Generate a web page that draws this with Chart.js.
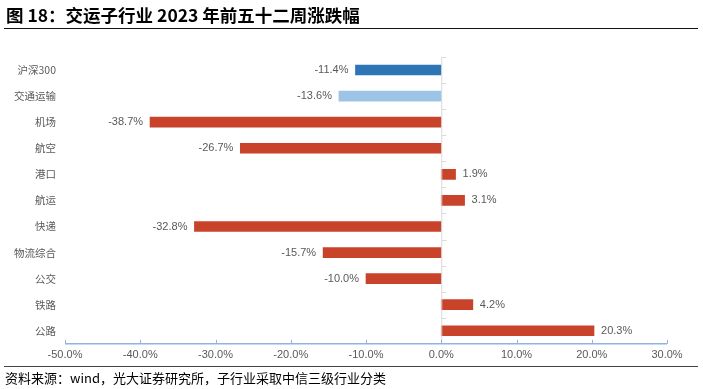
<!DOCTYPE html>
<html>
<head>
<meta charset="utf-8">
<script src="https://cdn.jsdelivr.net/npm/chart.js@4"></script>
<style>
  body { margin: 0; width: 703px; height: 389px; background: #fff; position: relative; overflow: hidden; }
  #title { position: absolute; left: 6px; top: 2px; font: bold 17.5px "Noto Sans CJK SC"; color: #000; white-space: nowrap; }
  #titleLine { position: absolute; left: 4px; right: 5px; top: 28px; height: 0; border-top: 1.5px solid #111; }
  #footLine { position: absolute; left: 4px; right: 5px; top: 366px; height: 0; border-top: 1.5px solid #444; }
  #foot { position: absolute; left: 5px; top: 368px; font: 13px "Noto Sans CJK SC"; color: #000; white-space: nowrap; }
  #wrap { position: absolute; left: 0; top: 0; width: 703px; height: 389px; }
</style>
</head>
<body>
<div id="wrap"><canvas id="c" width="703" height="389"></canvas></div>
<div id="title">图 18：交运子行业 2023 年前五十二周涨跌幅</div>
<div id="titleLine"></div>
<div id="footLine"></div>
<div id="foot">资料来源：wind，光大证券研究所，子行业采取中信三级行业分类</div>
<script>
const categories = ["沪深300", "交通运输", "机场", "航空", "港口", "航运", "快递", "物流综合", "公交", "铁路", "公路"];
const changes = [-11.4, -13.6, -38.7, -26.7, 1.9, 3.1, -32.8, -15.7, -10.0, 4.2, 20.3];
const barColors = ["#2E75B6", "#9DC3E6", "#C9432A", "#C9432A", "#C9432A", "#C9432A", "#C9432A", "#C9432A", "#C9432A", "#C9432A", "#C9432A"];
const xMin = -50;
const xMax = 30;

// 零线、底部坐标轴和数据标签
const decor = {
  id: "decor",
  afterDatasetsDraw(chart) {
    const { ctx, chartArea } = chart;
    const x = chart.scales.x;
    const y = chart.scales.y;
    const x0 = x.getPixelForValue(0);
    const step = y.getPixelForValue(1) - y.getPixelForValue(0);
    ctx.save();

    // 零线
    ctx.strokeStyle = "#D9D9D9";
    ctx.lineWidth = 1;
    ctx.beginPath();
    ctx.moveTo(x0 + 0.5, chartArea.top);
    ctx.lineTo(x0 + 0.5, chartArea.bottom);
    ctx.stroke();
    // 零线上的小刻度
    for (let i = 0; i < categories.length; i++) {
      const yy = Math.round(y.getPixelForValue(i) - step / 2) + 0.5;
      ctx.beginPath();
      ctx.moveTo(x0 + 1, yy);
      ctx.lineTo(x0 + 5, yy);
      ctx.stroke();
    }

    // 底部坐标轴
    ctx.strokeStyle = "#8DB4E2";
    ctx.lineWidth = 1.5;
    ctx.beginPath();
    ctx.moveTo(x.getPixelForValue(xMin), chartArea.bottom);
    ctx.lineTo(x.getPixelForValue(xMax), chartArea.bottom);
    ctx.stroke();
    ctx.lineWidth = 1;
    x.ticks.forEach((t) => {
      const px = Math.round(x.getPixelForValue(t.value)) + 0.5;
      ctx.beginPath();
      ctx.moveTo(px, chartArea.bottom);
      ctx.lineTo(px, chartArea.bottom - 4);
      ctx.stroke();
    });

    // 数据标签
    ctx.fillStyle = "#595959";
    ctx.font = '11px "Liberation Sans"';
    ctx.textBaseline = "middle";
    const meta = chart.getDatasetMeta(0);
    changes.forEach((v, i) => {
      const bar = meta.data[i];
      const label = v.toFixed(1) + "%";
      if (v < 0) {
        ctx.textAlign = "right";
        ctx.fillText(label, bar.x - 7, bar.y);
      } else {
        ctx.textAlign = "left";
        ctx.fillText(label, bar.x + 7, bar.y);
      }
    });
    ctx.restore();
  },
};

new Chart(document.getElementById("c"), {
  type: "bar",
  data: {
    labels: categories,
    datasets: [
      {
        data: changes,
        backgroundColor: barColors,
        borderWidth: 0,
        barThickness: 10,
      },
    ],
  },
  options: {
    indexAxis: "y",
    responsive: false,
    animation: false,
    layout: { padding: { left: 0, right: 36, top: 57, bottom: 22 } },
    plugins: {
      legend: { display: false },
      tooltip: { enabled: false },
    },
    scales: {
      x: {
        min: xMin,
        max: xMax,
        grid: { display: false, drawTicks: false },
        border: { display: false },
        ticks: {
          stepSize: 10,
          padding: 5,
          color: "#595959",
          font: { family: "Liberation Sans", size: 11 },
          callback: (v) => Number(v).toFixed(1) + "%",
        },
      },
      y: {
        grid: { display: false, drawTicks: false },
        border: { display: false },
        ticks: {
          padding: 9,
          color: "#595959",
          font: { family: "Noto Sans CJK SC", size: 10.5 },
        },
        afterFit: (scale) => {
          scale.width = 65;
        },
      },
    },
  },
  plugins: [decor],
});
</script>
</body>
</html>
